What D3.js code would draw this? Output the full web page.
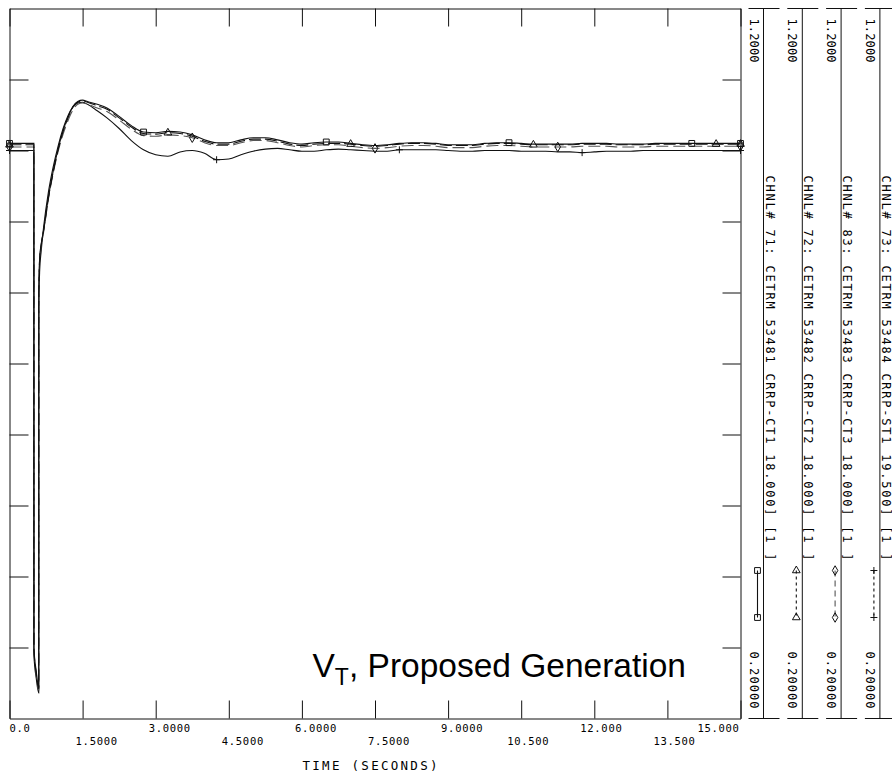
<!DOCTYPE html>
<html>
<head>
<meta charset="utf-8">
<script src="https://cdn.jsdelivr.net/npm/d3@7"></script>
<style>
  html, body { margin: 0; padding: 0; background: #fff; }
  svg { display: block; }
</style>
</head>
<body>
<svg id="chart" width="892" height="772"></svg>
<script>
// Simulation time base (seconds)
const times = [
  0, 0.5, 0.501, 0.55, 0.6, 0.601, 0.62, 0.65, 0.7, 0.8,
  0.9, 1.0, 1.1, 1.2, 1.3, 1.4, 1.5, 1.6, 1.8, 2.0,
  2.25, 2.5, 2.75, 3.0, 3.25, 3.5, 3.75, 4.0, 4.25, 4.5,
  4.75, 5.0, 5.25, 5.5, 5.75, 6.0, 6.25, 6.5, 6.75, 7.0,
  7.25, 7.5, 7.75, 8.0, 8.25, 8.5, 8.75, 9.0, 9.25, 9.5,
  9.75, 10.0, 10.25, 10.5, 10.75, 11.0, 11.25, 11.5, 11.75, 12.0,
  12.25, 12.5, 12.75, 13.0, 13.25, 13.5, 13.75, 14.0, 14.25, 14.5,
  14.75, 15.0
];

// Terminal voltage (pu) per channel
const vt71 = [
  1.010, 1.010, 0.300, 0.266, 0.244, 0.800, 0.850, 0.868, 0.888, 0.935,
  0.972, 1.003, 1.028, 1.047, 1.062, 1.069, 1.071, 1.069, 1.065, 1.060,
  1.048, 1.035, 1.026, 1.025, 1.027, 1.026, 1.022, 1.015, 1.011, 1.011,
  1.015, 1.018, 1.018, 1.015, 1.011, 1.009, 1.011, 1.012, 1.012, 1.010,
  1.008, 1.007, 1.008, 1.010, 1.011, 1.011, 1.010, 1.008, 1.008, 1.008,
  1.010, 1.011, 1.011, 1.010, 1.009, 1.009, 1.009, 1.009, 1.010, 1.010,
  1.010, 1.009, 1.009, 1.009, 1.010, 1.010, 1.010, 1.010, 1.010, 1.010,
  1.010, 1.010
];
const vt72 = [
  1.008, 1.008, 0.298, 0.263, 0.242, 0.797, 0.848, 0.867, 0.887, 0.934,
  0.971, 1.002, 1.027, 1.046, 1.061, 1.068, 1.070, 1.068, 1.063, 1.058,
  1.046, 1.033, 1.024, 1.023, 1.025, 1.024, 1.020, 1.013, 1.009, 1.009,
  1.013, 1.016, 1.016, 1.013, 1.009, 1.007, 1.009, 1.010, 1.010, 1.009,
  1.007, 1.006, 1.007, 1.009, 1.010, 1.010, 1.009, 1.007, 1.007, 1.007,
  1.009, 1.010, 1.010, 1.009, 1.008, 1.008, 1.008, 1.008, 1.009, 1.009,
  1.009, 1.008, 1.008, 1.008, 1.009, 1.009, 1.009, 1.009, 1.009, 1.009,
  1.009, 1.009
];
const vt83 = [
  1.005, 1.005, 0.296, 0.260, 0.240, 0.792, 0.845, 0.865, 0.885, 0.932,
  0.969, 0.999, 1.023, 1.042, 1.057, 1.065, 1.067, 1.065, 1.060, 1.055,
  1.043, 1.030, 1.021, 1.020, 1.022, 1.021, 1.018, 1.011, 1.007, 1.007,
  1.011, 1.014, 1.014, 1.011, 1.007, 1.005, 1.007, 1.008, 1.008, 1.006,
  1.004, 1.003, 1.004, 1.006, 1.007, 1.007, 1.006, 1.004, 1.004, 1.004,
  1.006, 1.007, 1.007, 1.006, 1.005, 1.005, 1.005, 1.005, 1.006, 1.006,
  1.006, 1.005, 1.005, 1.005, 1.006, 1.006, 1.006, 1.006, 1.006, 1.006,
  1.006, 1.006
];
const vt73 = [
  1.000, 1.000, 0.290, 0.256, 0.236, 0.780, 0.832, 0.858, 0.892, 0.942,
  0.978, 1.007, 1.031, 1.049, 1.061, 1.067, 1.068, 1.065, 1.056, 1.046,
  1.031, 1.014, 1.001, 0.994, 0.992, 0.998, 1.000, 0.996, 0.987, 0.988,
  0.994, 0.999, 1.002, 1.003, 1.001, 0.999, 0.999, 1.001, 1.002, 1.001,
  1.000, 0.999, 0.999, 1.001, 1.001, 1.001, 1.001, 1.000, 0.999, 0.999,
  1.000, 1.000, 1.000, 0.999, 0.999, 0.999, 0.998, 0.998, 0.997, 0.998,
  0.999, 0.999, 0.999, 1.000, 1.000, 1.000, 1.000, 1.000, 1.000, 1.000,
  1.000, 1.000
];

// Times at which each channel's symbol is plotted
const markTimes71 = [0, 2.75, 6.5, 10.25, 14.0, 15.0];
const markTimes72 = [0, 3.25, 7.0, 10.75, 14.5, 15.0];
const markTimes83 = [0, 3.75, 7.5, 11.25, 15.0];
const markTimes73 = [0, 4.25, 8.0, 11.75, 15.0];

// Channel descriptions
const channelLabels = [
  "CHNL# 71: CETRM 53481 CRRP-CT1 18.000] [1 ]",
  "CHNL# 72: CETRM 53482 CRRP-CT2 18.000] [1 ]",
  "CHNL# 83: CETRM 53483 CRRP-CT3 18.000] [1 ]",
  "CHNL# 73: CETRM 53484 CRRP-ST1 19.500] [1 ]"
];

// Axis ticks
const xTickValues = [0, 1.5, 3, 4.5, 6, 7.5, 9, 10.5, 12, 13.5, 15];
const xTickLabels = ["0.0", "1.5000", "3.0000", "4.5000", "6.0000", "7.5000",
                     "9.0000", "10.500", "12.000", "13.500", "15.000"];
const yTickValues = [0.3, 0.4, 0.5, 0.6, 0.7, 0.8, 0.9, 1.0, 1.1];
const yMaxLabel = "1.2000";
const yMinLabel = "0.20000";
const xTitle = "TIME (SECONDS)";

// ---------------------------------------------------------------------
const ink = "#111";
const mono = "'DejaVu Sans Mono', 'Liberation Mono', monospace";

const svg = d3.select("#chart");
const g = svg.append("g").attr("transform", "translate(0.5,0.5)");

const x = d3.scaleLinear().domain([0, 15]).range([9, 740]);
const y = d3.scaleLinear().domain([0.2, 1.2]).range([718, 8]);

// Frame with inward ticks on all four sides
const tick = 18;
g.append("g").attr("transform", `translate(0,${y(0.2)})`)
  .call(d3.axisBottom(x).tickValues(xTickValues).tickSizeInner(-tick).tickSizeOuter(0).tickFormat(""));
g.append("g").attr("transform", `translate(0,${y(1.2)})`)
  .call(d3.axisTop(x).tickValues(xTickValues).tickSizeInner(-tick).tickSizeOuter(0).tickFormat(""));
g.append("g").attr("transform", `translate(${x(0)},0)`)
  .call(d3.axisLeft(y).tickValues(yTickValues).tickSizeInner(-tick - 1).tickSizeOuter(0).tickFormat(""));
g.append("g").attr("transform", `translate(${x(15)},0)`)
  .call(d3.axisRight(y).tickValues(yTickValues).tickSizeInner(-tick).tickSizeOuter(0).tickFormat(""));
g.selectAll(".domain, .tick line").attr("stroke", ink).attr("stroke-width", 1);

// Time tick labels: decimal point sits on the tick, alternating rows
const pitch = 7;
xTickValues.forEach((v, i) => {
  const s = xTickLabels[i];
  const w = s.length * pitch + 1;
  let x0 = x(v) - s.indexOf(".") * pitch;
  x0 = Math.max(x(0), Math.min(x(15) - w, x0));
  g.append("text")
    .attr("x", x0).attr("y", i % 2 === 0 ? 731 : 744)
    .attr("font-family", mono).attr("font-size", 10.5)
    .attr("letter-spacing", 0.7)
    .attr("fill", "#000")
    .text(s);
});
g.append("text")
  .attr("x", 302).attr("y", 769)
  .attr("font-family", mono).attr("font-size", 12.5)
  .attr("textLength", 135).attr("lengthAdjust", "spacing")
  .attr("fill", "#000")
  .text(xTitle);

// Channel definitions
const series = [
  { values: vt73, marks: markTimes73, symbol: "plus",     plotDash: null,   keyDash: "3,3", color: ink },
  { values: vt83, marks: markTimes83, symbol: "diamond",  plotDash: "12,5", keyDash: "6,4", color: "#555" },
  { values: vt72, marks: markTimes72, symbol: "triangle", plotDash: "12,4", keyDash: "3,3", color: ink },
  { values: vt71, marks: markTimes71, symbol: "square",   plotDash: null,   keyDash: null,  color: ink }
];

function symbolPath(kind) {
  switch (kind) {
    case "square":   return d3.symbol(d3.symbolSquare, 34)();
    case "triangle": return d3.symbol(d3.symbolTriangle, 26)();
    case "diamond":  return d3.symbol(d3.symbolDiamond, 26)();
    default:         return "M-3.5,0H3.5M0,-3.5V3.5";
  }
}

const line = d3.line()
  .x(d => x(d[0]))
  .y(d => y(d[1]))
  .curve(d3.curveMonotoneX);

const plot = g.append("g");
series.forEach(s => {
  const pts = times.map((t, i) => [t, s.values[i]]);
  plot.append("path")
    .attr("d", line(pts))
    .attr("fill", "none")
    .attr("stroke", s.color)
    .attr("stroke-width", 1.1)
    .attr("stroke-dasharray", s.plotDash);
  s.marks.forEach(t => {
    const v = s.values[times.indexOf(t)];
    plot.append("path")
      .attr("d", symbolPath(s.symbol))
      .attr("transform", `translate(${x(t)},${y(v)})`)
      .attr("fill", "none")
      .attr("stroke", ink)
      .attr("stroke-width", 1);
  });
});

// Channel key panels on the right
const legendOrder = [3, 2, 1, 0];      // 71, 72, 83, 73
const panelStart = 763, panelStep = 38.8;
const keyTop = 570, keyBottom = 617;

function vtext(str, baseX, startY, len, size) {
  g.append("text")
    .attr("transform", `translate(${baseX},${startY}) rotate(90)`)
    .attr("font-family", mono).attr("font-size", size)
    .attr("textLength", len).attr("lengthAdjust", "spacing")
    .attr("fill", "#000")
    .text(str);
}

legendOrder.forEach((si, k) => {
  const s = series[si];
  const vx = panelStart + k * panelStep;
  g.append("line").attr("x1", vx).attr("x2", vx).attr("y1", y(1.2)).attr("y2", y(0.2))
    .attr("stroke", ink);
  g.append("line").attr("x1", vx - 15).attr("x2", vx + 16).attr("y1", y(1.2)).attr("y2", y(1.2))
    .attr("stroke", ink);
  g.append("line").attr("x1", vx - 15).attr("x2", vx + 16).attr("y1", y(0.2)).attr("y2", y(0.2))
    .attr("stroke", ink);

  vtext(yMaxLabel, vx - 14, 18, 44, 12);
  vtext(yMinLabel, vx - 14, 651, 57, 12);
  vtext(channelLabels[k], vx + 2, 175, 385, 12);

  const kx = vx - 6;
  g.append("line").attr("x1", kx).attr("x2", kx).attr("y1", keyTop).attr("y2", keyBottom)
    .attr("stroke", s.color).attr("stroke-width", 1.1)
    .attr("stroke-dasharray", s.keyDash);
  [keyTop, keyBottom].forEach(ky => {
    g.append("path")
      .attr("d", symbolPath(s.symbol))
      .attr("transform", `translate(${kx},${ky})`)
      .attr("fill", "none")
      .attr("stroke", ink);
  });
});

// Plot caption
const cap = g.append("text")
  .attr("x", 312).attr("y", 676)
  .attr("font-family", "'Liberation Sans', Arial, sans-serif")
  .attr("font-size", 33.5)
  .attr("fill", "#000");
cap.append("tspan").text("V");
cap.append("tspan").attr("dy", 8).attr("font-size", 23).text("T");
cap.append("tspan").attr("dy", -8).text(", Proposed Generation");
</script>
</body>
</html>
